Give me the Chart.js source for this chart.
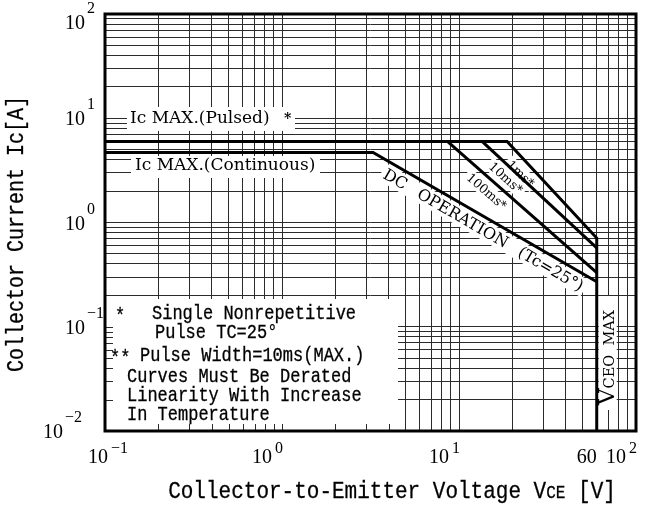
<!DOCTYPE html>
<html>
<head>
<meta charset="utf-8">
<script src="https://cdn.jsdelivr.net/npm/chart.js@4.4.1/dist/chart.umd.min.js"></script>
<style>
  html, body { margin: 0; padding: 0; background: #fff; }
</style>
</head>
<body>
<canvas id="soa" width="647" height="508"></canvas>
<script>
// grid lines (1..9 per decade)
const xGrid = [0.1, 0.2, 0.3, 0.4, 0.5, 0.6, 0.7, 0.8, 0.9,
               1, 2, 3, 4, 5, 6, 7, 8, 9,
               10, 20, 30, 40, 50, 60, 70, 80, 90, 100];
const yGrid = [0.01, 0.02, 0.03, 0.04, 0.05, 0.06, 0.07, 0.08, 0.09,
               0.1, 0.2, 0.3, 0.4, 0.5, 0.6, 0.7, 0.8, 0.9,
               1, 2, 3, 4, 5, 6, 7, 8, 9,
               10, 20, 30, 40, 50, 60, 70, 80, 90, 100];

// decade tick labels
const xDecades = [0.1, 1, 10, 100];
const xExp = ['\u22121', '0', '1', '2'];
const yDecades = [100, 10, 1, 0.1, 0.01];
const yExp = ['2', '1', '0', '\u22121', '\u22122'];
const vceoMax = 60;

// SOA curves, VCE [V] vs Ic [A]
const pulseV = [0.1, 18.7, 60, 60];   // Ic max pulsed + 1ms + VCEO
const pulseI = [6, 6, 0.71, 0.01];
const ms10V = [13.5, 60];
const ms10I = [6, 0.57];
const ms100V = [8.6, 60];
const ms100I = [6, 0.33];
const dcV = [0.1, 3.27, 60];
const dcI = [4.7, 4.7, 0.27];

const toXY = (xs, ys) => xs.map((v, i) => ({ x: v, y: ys[i] }));
const lineStyle = { showLine: true, borderColor: '#000', borderWidth: 3, pointRadius: 0,
                    borderJoinStyle: 'miter', fill: false };

const GRID = '#2b2b2b';
const SERIF = '"DejaVu Serif"';
const MONO = '"Liberation Mono"';

// position of a label next to a curve segment (pixel space)
function segPos(chart, v0, i0, v1, i1, t, off) {
  const { x, y } = chart.scales;
  const x0 = x.getPixelForValue(v0), y0 = y.getPixelForValue(i0);
  const x1 = x.getPixelForValue(v1), y1 = y.getPixelForValue(i1);
  const dx = x1 - x0, dy = y1 - y0, len = Math.hypot(dx, dy);
  return { cx: x0 + dx * t - dy / len * off, cy: y0 + dy * t + dx / len * off, ang: Math.atan2(dy, dx) };
}

function curveLabels(chart) {
  return [
    { p: segPos(chart, pulseV[1], pulseI[1], pulseV[2], pulseI[2], 0.25, 12), ang: 44, text: '1ms*', font: '12.5px ' + SERIF },
    { p: segPos(chart, ms10V[0], ms10I[0], ms10V[1], ms10I[1], 0.27, 10.5), ang: 42, text: '10ms*', font: '12.5px ' + SERIF },
    { p: segPos(chart, ms100V[0], ms100I[0], ms100V[1], ms100I[1], 0.315, 11.5), ang: 41, text: '100ms*', font: '12.5px ' + SERIF },
    { p: segPos(chart, dcV[1], dcI[1], dcV[2], dcI[2], 0.52, 12), ang: null, text: 'DC OPERATION (Tc=25°)', font: '16px ' + SERIF, ws: '9px' }
  ];
}

// draw text runs left to right on a baseline; bold adds a thin outline
function drawRun(ctx, parts, x, y, bold) {
  let cx = x;
  parts.forEach(([t, f]) => {
    ctx.font = f;
    ctx.fillText(t, cx, y);
    if (bold) ctx.strokeText(t, cx, y);
    cx += ctx.measureText(t).width;
  });
  return cx - x;
}
function runWidth(ctx, parts) {
  let w = 0;
  parts.forEach(([t, f]) => { ctx.font = f; w += ctx.measureText(t).width; });
  return w;
}
// typewriter text, a little taller and heavier than Liberation Mono
function monoText(ctx, t, x, y, size) {
  ctx.save();
  ctx.translate(x, y);
  ctx.scale(1, 1.15);
  ctx.font = size + 'px ' + MONO;
  ctx.lineWidth = 0.25;
  ctx.strokeStyle = '#000';
  ctx.fillText(t, 0, 0);
  ctx.strokeText(t, 0, 0);
  ctx.restore();
}

const decor = {
  id: 'soaDecor',
  beforeDatasetsDraw(chart) {
    const { ctx, chartArea: a, scales: { x, y } } = chart;
    ctx.save();
    ctx.fillStyle = '#fff';
    // patches behind labels
    ctx.fillRect(127, 107, 168, 24);
    ctx.fillRect(131, 156, 189, 22);
    const vx = x.getPixelForValue(vceoMax);
    ctx.fillRect(vx + 2, 296, 18, 114);
    // notes box
    const boxR = 398, boxT = 299;
    ctx.fillRect(a.left, boxT, boxR - a.left, a.bottom - boxT);
    ctx.strokeStyle = GRID;
    ctx.lineWidth = 1;
    ctx.beginPath();
    xGrid.forEach(v => {
      const px = Math.round(x.getPixelForValue(v)) + 0.5;
      if (px > a.left + 3 && px < boxR) { ctx.moveTo(px, a.bottom); ctx.lineTo(px, a.bottom - 7); }
    });
    yGrid.forEach(v => {
      const py = Math.round(y.getPixelForValue(v)) + 0.5;
      if (py > boxT && py < a.bottom - 3) { ctx.moveTo(a.left, py); ctx.lineTo(a.left + 8, py); }
    });
    ctx.stroke();
    // rotated patches
    curveLabels(chart).forEach(l => {
      ctx.save();
      ctx.font = l.font;
      if (l.ws) ctx.wordSpacing = l.ws;
      const w = ctx.measureText(l.text).width;
      const h = parseFloat(l.font) * 1.15;
      ctx.translate(l.p.cx, l.p.cy);
      ctx.rotate(l.ang === null ? l.p.ang : l.ang * Math.PI / 180);
      ctx.fillRect(-w / 2 - 3, -h / 2, w + 6, h);
      ctx.restore();
    });
    ctx.restore();
  },
  afterDatasetsDraw(chart) {
    const { ctx, chartArea: a, scales: { x, y } } = chart;
    ctx.save();
    // frame
    ctx.strokeStyle = '#000';
    ctx.lineWidth = 3;
    ctx.strokeRect(a.left, a.top, a.right - a.left, a.bottom - a.top);
    ctx.fillStyle = '#000';

    // in-plot labels
    ctx.textAlign = 'left';
    ctx.textBaseline = 'middle';
    ctx.font = '17px ' + SERIF;
    ctx.fillText('Ic MAX.(Pulsed)', 130, 119);
    ctx.fillText('Ic MAX.(Continuous)', 135, 166);
    ctx.font = 'bold 14px ' + SERIF;
    ctx.fillText('*', 284, 119);

    ctx.textAlign = 'center';
    curveLabels(chart).forEach(l => {
      ctx.save();
      ctx.font = l.font;
      if (l.ws) ctx.wordSpacing = l.ws;
      ctx.translate(l.p.cx, l.p.cy);
      ctx.rotate(l.ang === null ? l.p.ang : l.ang * Math.PI / 180);
      ctx.fillText(l.text, 0, 1);
      ctx.restore();
    });

    // VCEO MAX
    const vx = x.getPixelForValue(vceoMax);
    ctx.save();
    ctx.translate(vx + 17, 405);
    ctx.rotate(-Math.PI / 2);
    ctx.textAlign = 'left';
    ctx.textBaseline = 'alphabetic';
    drawRun(ctx, [['V', '23px ' + SERIF], ['CEO', '14.5px ' + SERIF], ['  MAX', '14.5px ' + SERIF]], 0, 0);
    ctx.restore();

    // notes
    ctx.textAlign = 'left';
    ctx.textBaseline = 'middle';
    monoText(ctx, '*', 115, 317, 17);
    monoText(ctx, 'Single Nonrepetitive', 152, 314, 17);
    monoText(ctx, 'Pulse TC=25°', 155, 333, 17);
    monoText(ctx, '**', 110, 359, 17);
    monoText(ctx, 'Pulse Width=10ms(MAX.)', 140, 356, 17);
    monoText(ctx, 'Curves Must Be Derated', 127, 377, 17);
    monoText(ctx, 'Linearity With Increase', 127, 396, 17);
    monoText(ctx, 'In Temperature', 127, 415, 17);
    ctx.restore();
  },
  afterDraw(chart) {
    const { ctx, chartArea: a, scales: { x, y } } = chart;
    ctx.save();
    ctx.fillStyle = '#000';
    ctx.strokeStyle = '#000';
    ctx.textBaseline = 'alphabetic';
    // x decade labels
    xDecades.forEach((v, i) => {
      const right = Math.max(x.getPixelForValue(v) - 10, a.left + 3);
      ctx.font = '20px "Liberation Serif"';
      ctx.textAlign = 'right';
      ctx.fillText('10', right, 463);
      ctx.font = '16px "Liberation Serif"';
      ctx.textAlign = 'left';
      ctx.fillText(xExp[i], right + 3, 453);
    });
    ctx.font = '20px "Liberation Serif"';
    ctx.textAlign = 'center';
    ctx.fillText(String(vceoMax), x.getPixelForValue(vceoMax) - 10, 463);
    // y decade labels
    yDecades.forEach((v, i) => {
      const cy = Math.max(y.getPixelForValue(v), a.top + 8);
      const right = i === yDecades.length - 1 ? 63 : 85;
      ctx.font = '20px "Liberation Serif"';
      ctx.textAlign = 'right';
      ctx.fillText('10', right, cy + 7);
      ctx.font = '16px "Liberation Serif"';
      ctx.textAlign = 'left';
      ctx.fillText(yExp[i], right + 2, cy - 9);
    });
    // axis titles
    const xt = [['Collector-to-Emitter Voltage V', '21px ' + MONO], ['CE', '16px ' + MONO], [' [V]', '21px ' + MONO]];
    ctx.textAlign = 'left';
    ctx.lineWidth = 0.25;
    ctx.save();
    ctx.translate(392 - runWidth(ctx, xt) / 2, 498);
    ctx.scale(1, 1.15);
    drawRun(ctx, xt, 0, 0, true);
    ctx.restore();
    ctx.save();
    ctx.translate(17, 234);
    ctx.rotate(-Math.PI / 2);
    ctx.scale(1, 1.15);
    ctx.textAlign = 'center';
    ctx.textBaseline = 'middle';
    ctx.font = '20px ' + MONO;
    ctx.fillText('Collector Current Ic[A]', 0, 0);
    ctx.strokeText('Collector Current Ic[A]', 0, 0);
    ctx.restore();
    ctx.restore();
  }
};

const logAxis = (min, max, grid) => ({
  type: 'logarithmic', min, max,
  afterBuildTicks: s => { s.ticks = grid.map(v => ({ value: v })); },
  ticks: { display: false },
  grid: { color: GRID, lineWidth: 1, drawTicks: false },
  border: { display: false }
});

new Chart(document.getElementById('soa'), {
  type: 'scatter',
  data: {
    datasets: [
      { ...lineStyle, data: toXY(pulseV, pulseI) },
      { ...lineStyle, data: toXY(ms10V, ms10I) },
      { ...lineStyle, data: toXY(ms100V, ms100I) },
      { ...lineStyle, data: toXY(dcV, dcI) }
    ]
  },
  options: {
    responsive: false,
    animation: false,
    devicePixelRatio: 1,
    layout: { padding: { left: 105, right: 11, top: 14, bottom: 77 } },
    plugins: { legend: { display: false }, tooltip: { enabled: false } },
    scales: {
      x: logAxis(0.1, 100, xGrid),
      y: logAxis(0.01, 100, yGrid)
    }
  },
  plugins: [decor]
});
</script>
</body>
</html>
